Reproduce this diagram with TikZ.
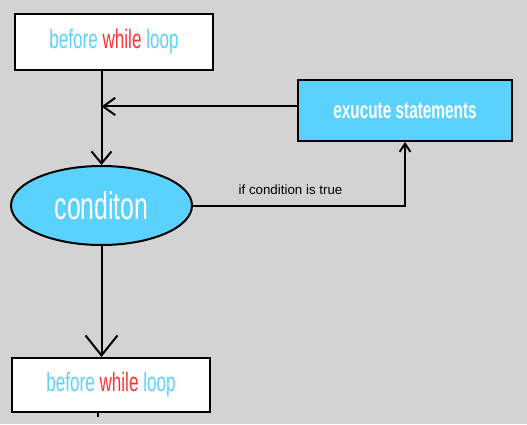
\documentclass[tikz,border=0pt]{standalone}
\usepackage{fontspec}
\setmainfont{Liberation Sans}
\newfontfamily\condfont[FakeStretch=0.64]{Liberation Sans}
\usetikzlibrary{arrows.meta, shapes.geometric}

\definecolor{bggray}{RGB}{211,211,211}
\definecolor{skyblue}{RGB}{90,210,253}
\definecolor{loopred}{RGB}{255,50,50}

\begin{document}
\begin{tikzpicture}[x=0.75pt, y=-0.75pt,
    plainbox/.style={draw=black, line width=1.5pt, fill=white, minimum width=148.5pt, minimum height=42pt, inner sep=0pt},
    bluebox/.style={draw=black, line width=1.5pt, fill=skyblue, minimum width=160.5pt, minimum height=45.75pt, inner sep=0pt,
      text=white, font=\condfont\bfseries\fontsize{18}{18}\selectfont},
    bluetest/.style={ellipse, draw=black, line width=1.5pt, fill=skyblue, minimum width=135.75pt, minimum height=59.25pt, inner sep=0pt,
      text=white, font=\condfont\fontsize{29}{29}\selectfont},
    flow/.style={black, line width=1.5pt}]

  % Background
  \fill[bggray] (0,0) rectangle (527,424);

  % Boxes
  \node[plainbox] (before) at (114,42)
    {\condfont\fontsize{20}{20}\selectfont\textcolor{skyblue}{before} \textcolor{loopred}{while} \textcolor{skyblue}{loop}};
  \node[bluebox] (exec) at (405,110.5) {exucute statements};
  \node[bluetest] (cond) at (101.5,205.5) {conditon};
  \node[plainbox, minimum height=40.5pt] (after) at (111,385)
    {\condfont\fontsize{20}{20}\selectfont\textcolor{skyblue}{before} \textcolor{loopred}{while} \textcolor{skyblue}{loop}};

  % Connectors
  \draw[flow, -{Straight Barb[length=9pt, width=15pt]}] (cond.north |- before.south) -- (cond.north);
  \draw[flow, -{Straight Barb[length=9pt, width=13pt]}] ([yshift=3pt]exec.west) -- ([yshift=3pt]exec.west -| cond.north);
  \draw[flow, -{Straight Barb[length=6pt, width=8pt]}] (cond.east) -| (exec.south)
    node[pos=0.23, above=4pt, font=\fontsize{10}{10}\selectfont, text=black] {if condition is true};
  \draw[flow, -{Straight Barb[length=15pt, width=24pt]}] (cond.south) -- (cond.south |- after.north);

  % Small tick below the last box
  \coordinate (tick) at (98,417);
  \draw[flow, line width=1pt] (after.south -| tick) -- (tick);

\end{tikzpicture}
\end{document}
